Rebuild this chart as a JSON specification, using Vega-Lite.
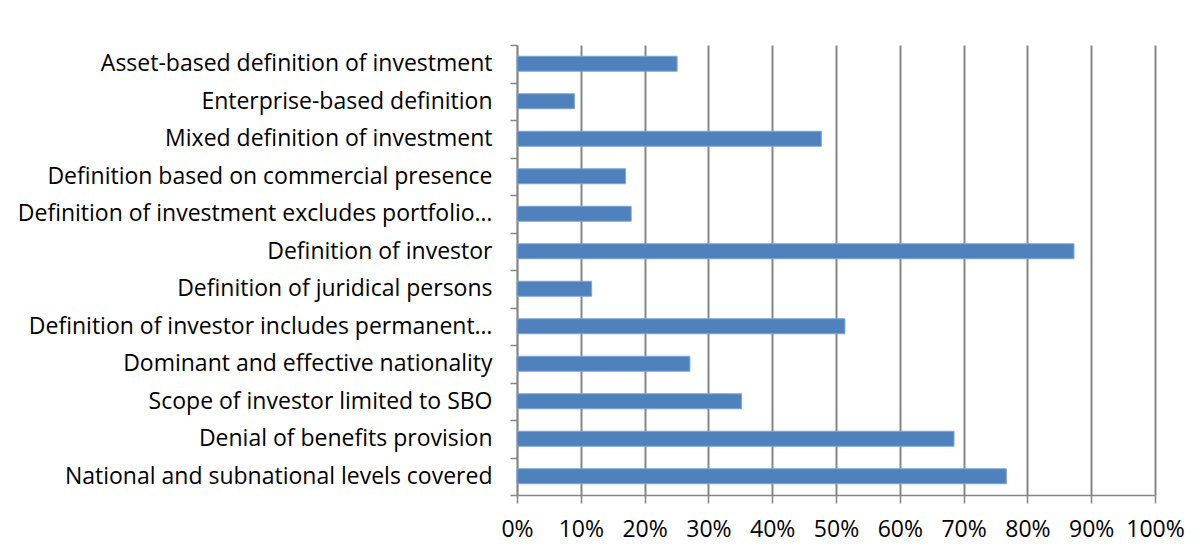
{
  "$schema": "https://vega.github.io/schema/vega-lite/v6.json",
  "width": 638,
  "height": 450,
  "autosize": "none",
  "padding": {"left": 517, "top": 45, "right": 45, "bottom": 59},
  "background": "white",
  "config": {"view": {"stroke": null}},
  "data": {
    "values": [
      {"category": "Asset-based definition of investment", "share": 0.251},
      {"category": "Enterprise-based definition", "share": 0.090},
      {"category": "Mixed definition of investment", "share": 0.477},
      {"category": "Definition based on commercial presence", "share": 0.170},
      {"category": "Definition of investment excludes portfolio…", "share": 0.179},
      {"category": "Definition of investor", "share": 0.873},
      {"category": "Definition of juridical persons", "share": 0.117},
      {"category": "Definition of investor includes permanent…", "share": 0.514},
      {"category": "Dominant and effective nationality", "share": 0.271},
      {"category": "Scope of investor limited to SBO", "share": 0.352},
      {"category": "Denial of benefits provision", "share": 0.685},
      {"category": "National and subnational levels covered", "share": 0.767}
    ]
  },
  "mark": {"type": "bar", "color": "#4F81BD", "stroke": "#7FA6D6", "strokeWidth": 1, "height": {"band": 0.4}},
  "encoding": {
    "y": {
      "field": "category",
      "type": "nominal",
      "sort": null,
      "title": null,
      "scale": {"paddingInner": 0, "paddingOuter": 0},
      "axis": {
        "tickBand": "extent",
        "domainColor": "#868686",
        "domainWidth": 1.5,
        "tickColor": "#868686",
        "tickWidth": 1.5,
        "tickSize": 7,
        "labelFont": "Open Sans",
        "labelFontSize": 23,
        "labelColor": "#000000",
        "labelPadding": 18,
        "labelLimit": 600
      }
    },
    "x": {
      "field": "share",
      "type": "quantitative",
      "title": null,
      "scale": {"domain": [0, 1], "nice": false},
      "axis": {
        "values": [0, 0.1, 0.2, 0.3, 0.4, 0.5, 0.6, 0.7, 0.8, 0.9, 1],
        "format": ".0%",
        "grid": true,
        "gridColor": "#868686",
        "gridWidth": 2,
        "domainColor": "#868686",
        "domainWidth": 1.5,
        "tickColor": "#868686",
        "tickWidth": 1.5,
        "tickSize": 8,
        "labelFont": "Open Sans",
        "labelFontSize": 23,
        "labelColor": "#000000",
        "labelPadding": 15,
        "labelFlush": false
      }
    }
  }
}
